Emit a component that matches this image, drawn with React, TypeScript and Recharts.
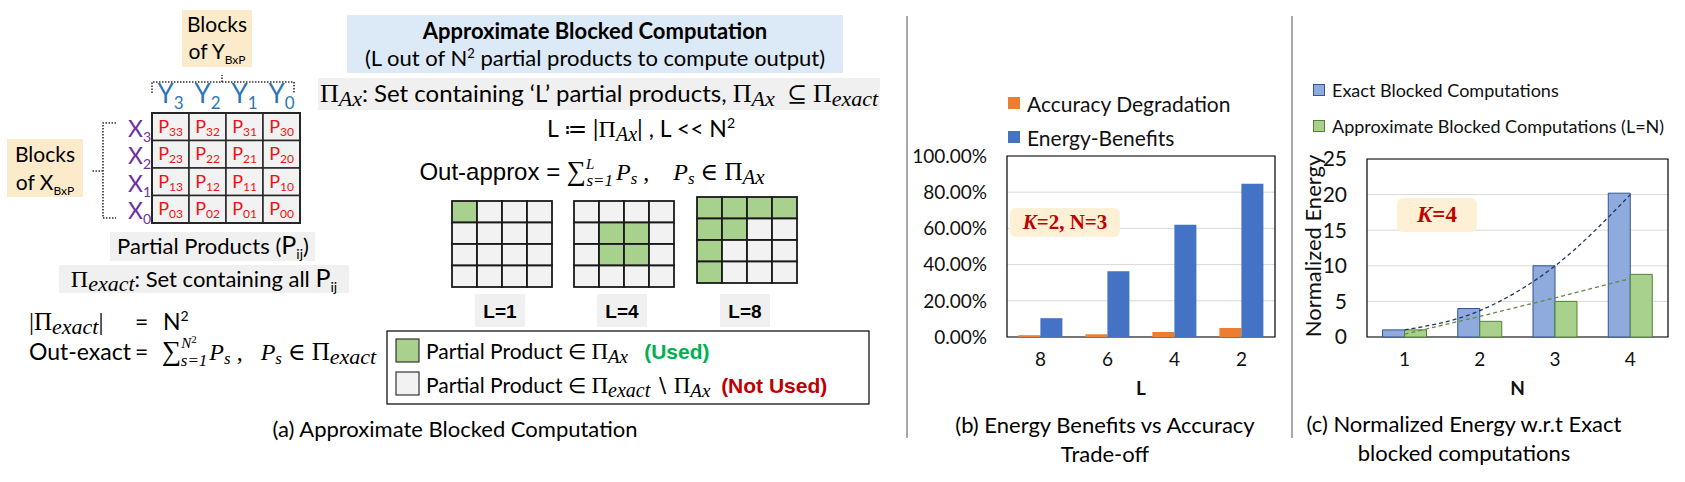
import React from 'react'
import {
  BarChart,
  ComposedChart,
  Bar,
  Line,
  XAxis,
  YAxis,
  CartesianGrid,
  Legend,
  ReferenceArea,
} from 'recharts'

// ---- data: (b) energy benefits vs accuracy ----
const lValues = ['8', '6', '4', '2']
const accuracyDegradation = [1.0, 1.5, 2.7, 5.0]
const energyBenefits = [10.4, 36.3, 62.0, 84.6]
const bTicks = [0, 20, 40, 60, 80, 100]

// ---- data: (c) normalized energy ----
const nValues = ['1', '2', '3', '4']
const exactEnergy = [1.0, 4.0, 10.0, 20.2]
const approxEnergy = [1.0, 2.2, 5.0, 8.8]
const exactTrend = [1.0, 3.7, 10.0, 20.0]
const approxTrend = [0.4, 2.9, 5.5, 8.2]
const cTicks = [0, 5, 10, 15, 20, 25]

// ---- data: (a) which partial products are used for each L ----
const gridLabels = ['L=1', 'L=4', 'L=8']
const usedCells: [number, number][][] = [
  [[0, 0]],
  [[1, 1], [1, 2], [2, 1], [2, 2]],
  [[0, 0], [0, 1], [0, 2], [0, 3], [1, 0], [1, 1], [2, 0], [3, 0]],
]
const blockIdx = [3, 2, 1, 0]

const W = 1685
const H = 482
const SANS = 'Lato, "Open Sans", sans-serif'
const MATH = '"Liberation Serif", "DejaVu Serif", serif'
const ARIAL = '"Liberation Sans", Arial, sans-serif'
const PEACH = '#fcebcb'
const LIGHT = '#f0f0f0'
const TXT = '#111'

const bSeries = [
  { key: 'accuracy', name: 'Accuracy Degradation', color: '#ed7d31' },
  { key: 'energy', name: 'Energy-Benefits', color: '#4472c4' },
]
const cSeries = [
  { key: 'exact', name: 'Exact Blocked Computations', color: '#8faadc', border: '#2f5597' },
  { key: 'approx', name: 'Approximate Blocked Computations (L=N)', color: '#a9d18e', border: '#548235' },
]

const bData = lValues.map((l, i) => ({ L: l, accuracy: accuracyDegradation[i], energy: energyBenefits[i] }))
const cData = nValues.map((n, i) => ({
  N: n,
  exact: exactEnergy[i],
  approx: approxEnergy[i],
  exactTrend: exactTrend[i],
  approxTrend: approxTrend[i],
}))

interface Seg {
  t: string
  size?: number
  fam?: string
  it?: boolean
  bold?: boolean
  fill?: string
  shift?: number
  dx?: number
}

function Rich({ x, y, segs, anchor = 'start', size = 20, fam = SANS, fill = '#000' }: {
  x: number; y: number; segs: Seg[]; anchor?: 'start' | 'middle' | 'end'; size?: number; fam?: string; fill?: string
}) {
  let prev = 0
  return (
    <text x={x} y={y} textAnchor={anchor} fontSize={size} fontFamily={fam} fill={fill} style={{ whiteSpace: 'pre' }}>
      {segs.map((s, i) => {
        const sh = s.shift ?? prev
        const dy = sh - prev
        prev = sh
        return (
          <tspan
            key={i}
            dy={dy || undefined}
            dx={s.dx}
            fontSize={s.size}
            fontFamily={s.fam}
            fontStyle={s.it ? 'italic' : undefined}
            fontWeight={s.bold ? 'bold' : undefined}
            fill={s.fill}
          >
            {s.t}
          </tspan>
        )
      })}
    </text>
  )
}

const pi = (sub: string, size = 24, subSize = 21): Seg[] => [
  { t: 'Π', fam: MATH, size, shift: 0 },
  { t: sub, fam: MATH, it: true, size: subSize, shift: 4 },
]

function DiagramA() {
  const gx = 152
  const gy = 113
  const cw = 37
  const ch = 27.5
  const smallX = [452, 574, 697]
  const smallY = [201, 201, 197]
  const sw = 25
  const sh = 21.5
  return (
    <g>
      {/* blocks of Y */}
      <rect x={182} y={10} width={70} height={57} fill={PEACH} />
      <Rich x={217} y={32} anchor="middle" size={21} segs={[{ t: 'Blocks' }]} />
      <Rich x={217} y={59} anchor="middle" size={21} segs={[{ t: 'of Y' }, { t: 'BxP', size: 12, shift: 5 }]} />
      <path d="M152,93 V82 H294 V93 M222,82 V75" fill="none" stroke="#333" strokeWidth={1.6} strokeDasharray="1.5 1.5" />
      {blockIdx.map((b, c) => (
        <Rich key={c} x={gx + cw * c + cw / 2} y={103} anchor="middle" fill="#2e75b6"
          segs={[{ t: 'Y', size: 26 }, { t: String(b), size: 17, shift: 6 }]} />
      ))}
      {/* partial product grid */}
      {blockIdx.map((rb, r) =>
        blockIdx.map((cb, c) => (
          <g key={`${r}-${c}`}>
            <rect x={gx + cw * c} y={gy + ch * r} width={cw} height={ch} fill="#f2f2f2" stroke="#262626" strokeWidth={1.5} />
            <Rich x={gx + cw * c + cw / 2} y={gy + ch * r + ch / 2 + 6} anchor="middle" fill="#ee1111"
              segs={[{ t: 'P', size: 18 }, { t: `${rb}${cb}`, size: 12, shift: 3 }]} />
          </g>
        ))
      )}
      <rect x={gx} y={gy} width={cw * 4} height={ch * 4} fill="none" stroke="#262626" strokeWidth={2} />
      {blockIdx.map((b, r) => (
        <Rich key={r} x={151} y={gy + ch * r + ch / 2 + 10} anchor="end" fill="#7030a0"
          segs={[{ t: 'X', size: 23 }, { t: String(b), size: 14, shift: 5 }]} />
      ))}
      <path d="M116,123 H103 V218 H116 M103,171 H92" fill="none" stroke="#333" strokeWidth={1.6} strokeDasharray="1.5 1.5" />
      {/* blocks of X */}
      <rect x={7} y={139} width={76} height={58} fill={PEACH} />
      <Rich x={45} y={162} anchor="middle" size={21} segs={[{ t: 'Blocks' }]} />
      <Rich x={45} y={190} anchor="middle" size={21} segs={[{ t: 'of X' }, { t: 'BxP', size: 12, shift: 5 }]} />

      <rect x={110} y={232} width={205} height={29} fill={LIGHT} />
      <Rich x={213} y={254} anchor="middle" size={22}
        segs={[{ t: 'Partial Products (' }, { t: 'P', size: 25 }, { t: 'ij', size: 14, shift: 5 }, { t: ')', shift: 0 }]} />
      <rect x={59} y={265} width={290} height={28} fill={LIGHT} />
      <Rich x={204} y={287} anchor="middle" size={22}
        segs={[...pi('exact', 24, 22), { t: ': Set containing all ', shift: 0 }, { t: 'P', size: 25 }, { t: 'ij', size: 14, shift: 5 }]} />

      <Rich x={29} y={330} segs={[{ t: '|', fam: MATH, size: 25 }, ...pi('exact', 25, 22), { t: '|', fam: MATH, size: 25, shift: 0 }]} />
      <Rich x={135} y={330} size={23} segs={[{ t: '=' }]} />
      <Rich x={163} y={330} size={23} segs={[{ t: 'N' }, { t: '2', size: 14, shift: -9 }]} />
      <Rich x={29} y={360} size={23} segs={[{ t: 'Out-exact' }]} />
      <Rich x={135} y={360} size={23} segs={[{ t: '=' }]} />
      <Rich x={162} y={360} fam={MATH} size={24}
        segs={[
          { t: '∑', size: 27, shift: 0 },
          { t: 'N', it: true, size: 15, shift: -12 },
          { t: '2', size: 11, shift: -17 },
          { t: 's=1', it: true, size: 17, shift: 6, dx: -16 },
          { t: 'P', it: true, size: 24, shift: 0, dx: 2 },
          { t: 's', it: true, size: 17, shift: 4 },
          { t: ' ,   ', shift: 0 },
          { t: 'P', it: true, size: 24 },
          { t: 's', it: true, size: 17, shift: 4 },
          { t: ' ∈ ', shift: 0 },
          ...pi('exact', 25, 22),
        ]} />

      {/* approximate block */}
      <rect x={347} y={15} width={496} height={58} fill="#dce9f6" />
      <Rich x={595} y={39} anchor="middle" size={22} segs={[{ t: 'Approximate Blocked Computation', bold: true }]} />
      <Rich x={595} y={66} anchor="middle" size={22}
        segs={[{ t: '(L out of N' }, { t: '2', size: 13, shift: -8 }, { t: ' partial products to compute output)', shift: 0 }]} />
      <rect x={318} y={78} width={562} height={32} fill={LIGHT} />
      <Rich x={599} y={102} anchor="middle" size={24}
        segs={[...pi('Ax', 26, 22), { t: ': Set containing ‘L’ partial products, ', shift: 0 }, ...pi('Ax', 26, 22), { t: '  ⊆ ', fam: MATH, shift: 0 }, ...pi('exact', 26, 22)]} />
      <Rich x={641} y={137} anchor="middle" size={23}
        segs={[{ t: 'L ≔ |' }, ...pi('Ax', 24, 20), { t: '| , L << N', shift: 0 }, { t: '2', size: 14, shift: -9 }]} />
      <Rich x={592} y={180} anchor="middle" size={24} fam={MATH}
        segs={[
          { t: 'Out-approx = ', fam: ARIAL, shift: 0 },
          { t: '∑', size: 27 },
          { t: 'L', it: true, size: 15, shift: -11 },
          { t: 's=1', it: true, size: 17, shift: 6, dx: -8 },
          { t: 'P', it: true, shift: 0, dx: 3 },
          { t: 's', it: true, size: 17, shift: 4 },
          { t: ' ,    ', shift: 0 },
          { t: 'P', it: true },
          { t: 's', it: true, size: 17, shift: 4 },
          { t: ' ∈ ', shift: 0 },
          ...pi('Ax', 25, 21),
        ]} />

      {usedCells.map((cells, g) => (
        <g key={g}>
          {[0, 1, 2, 3].map((r) =>
            [0, 1, 2, 3].map((c) => {
              const used = cells.some(([rr, cc]) => rr === r && cc === c)
              return (
                <rect key={`${r}-${c}`} x={smallX[g] + sw * c} y={smallY[g] + sh * r} width={sw} height={sh}
                  fill={used ? '#a9d18e' : '#f2f2f2'} stroke="#1a1a1a" strokeWidth={1.8} />
              )
            })
          )}
          <rect x={smallX[g] + 50 - 27} y={294} width={50} height={33} fill={LIGHT} />
          <Rich x={smallX[g] + 48} y={318} anchor="middle" size={19} fam={ARIAL} segs={[{ t: gridLabels[g], bold: true }]} />
        </g>
      ))}

      {/* legend of (a) */}
      <rect x={387} y={331} width={482} height={73} fill="#fff" stroke="#000" strokeWidth={1.2} />
      <rect x={396} y={339} width={23} height={23} fill="#a9d18e" stroke="#333" strokeWidth={1.2} />
      <rect x={396} y={372} width={23} height={23} fill="#f2f2f2" stroke="#333" strokeWidth={1.2} />
      <Rich x={426} y={359} size={21}
        segs={[{ t: 'Partial Product ∈ ' }, ...pi('Ax', 23, 19), { t: '   ', shift: 0 },
          { t: '(Used)', fam: ARIAL, bold: true, fill: '#00b050' }]} />
      <Rich x={426} y={393} size={21}
        segs={[{ t: 'Partial Product ∈ ' }, ...pi('exact', 23, 20), { t: ' ∖ ', fam: MATH, shift: 0 }, ...pi('Ax', 23, 19),
          { t: '  ', shift: 0 }, { t: '(Not Used)', fam: ARIAL, bold: true, fill: '#c00000' }]} />

      <Rich x={455} y={437} anchor="middle" size={22} segs={[{ t: '(a) Approximate Blocked Computation' }]} />
    </g>
  )
}

function LegendB() {
  return (
    <div style={{ fontFamily: SANS, color: TXT }}>
      {bSeries.map((s) => (
        <div key={s.key} style={{ display: 'flex', alignItems: 'center', height: 34, fontSize: 21 }}>
          <span style={{ width: 12, height: 12, background: s.color, marginRight: 7 }} />
          {s.name}
        </div>
      ))}
    </div>
  )
}

function LegendC() {
  return (
    <div style={{ fontFamily: SANS, color: TXT }}>
      {cSeries.map((s) => (
        <div key={s.key} style={{ display: 'flex', alignItems: 'center', height: 36, fontSize: 18 }}>
          <span style={{ width: 10, height: 10, background: s.color, border: `1px solid ${s.border}`, marginRight: 7 }} />
          {s.name}
        </div>
      ))}
    </div>
  )
}

const YLabelC = (props: { viewBox?: { x: number; y: number; height: number } }) => {
  const vb = props.viewBox ?? { x: 0, y: 99, height: 178 }
  const cx = vb.x + 17
  const cy = vb.y + vb.height / 2 - 2
  return (
    <text x={cx} y={cy} transform={`rotate(-90 ${cx} ${cy})`} textAnchor="middle" dominantBaseline="central"
      fontSize={22} fontFamily={SANS} fill={TXT}>
      Normalized Energy
    </text>
  )
}

const tickStyle = { fontSize: 19, fill: TXT, fontFamily: SANS }

function ChartB() {
  return (
    <BarChart width={380} height={340} data={bData} margin={{ top: 86, right: 15, bottom: 15, left: 0 }}
      barCategoryGap="17%" barGap={0}>
      <CartesianGrid vertical={false} stroke="#d9d9d9" />
      <XAxis dataKey="L" axisLine={false} tickLine={false} tickSize={0} tickMargin={16} height={58} tick={tickStyle}
        label={{ value: 'L', position: 'insideBottom', offset: 0, fontSize: 19, fontWeight: 'bold', fill: TXT, fontFamily: SANS }} />
      <YAxis domain={[0, 100]} ticks={bTicks} tickFormatter={(v: number) => `${v.toFixed(2)}%`} width={97}
        axisLine={false} tickLine={false} tickSize={0} tickMargin={20} tick={tickStyle} />
      <ReferenceArea y1={0} y2={100} fill="none" stroke="#000" strokeWidth={1.2} />
      <Legend layout="vertical" align="center" verticalAlign="middle" wrapperStyle={{ top: 16, left: 98, width: 'auto' }}
        content={() => <LegendB />} />
      {bSeries.map((s) => (
        <Bar key={s.key} dataKey={s.key} name={s.name} fill={s.color} isAnimationActive={false} />
      ))}
    </BarChart>
  )
}

function ChartC() {
  return (
    <ComposedChart width={385} height={350} data={cData} margin={{ top: 99, right: 12, bottom: 15, left: 0 }}
      barCategoryGap="20.6%" barGap={0}>
      <CartesianGrid vertical={false} stroke="#d9d9d9" />
      <XAxis dataKey="N" axisLine={false} tickLine={false} tickSize={0} tickMargin={16} height={58} tick={tickStyle}
        label={{ value: 'N', position: 'insideBottom', offset: 0, fontSize: 19, fontWeight: 'bold', fill: TXT, fontFamily: SANS }} />
      <YAxis domain={[0, 25]} ticks={cTicks} width={72} axisLine={false} tickLine={false} tickSize={0} tickMargin={20}
        tick={{ ...tickStyle, fontSize: 21 }} label={(p: any) => <YLabelC {...p} />} />
      <ReferenceArea y1={0} y2={25} fill="none" stroke="#000" strokeWidth={1.2} />
      <Legend layout="vertical" align="center" verticalAlign="middle" wrapperStyle={{ top: 12, left: 18, width: 'auto' }}
        content={() => <LegendC />} />
      {cSeries.map((s) => (
        <Bar key={s.key} dataKey={s.key} name={s.name} fill={s.color} stroke={s.border} strokeWidth={1} isAnimationActive={false} />
      ))}
      <Line dataKey="exactTrend" type="monotone" stroke="#203864" strokeWidth={1.3} strokeDasharray="4 3" dot={false}
        legendType="none" isAnimationActive={false} />
      <Line dataKey="approxTrend" type="linear" stroke="#5f8a44" strokeWidth={1.3} strokeDasharray="4 3" dot={false}
        legendType="none" isAnimationActive={false} />
    </ComposedChart>
  )
}

export default function App() {
  return (
    <div style={{ position: 'absolute', left: 0, top: 0, width: W, height: H, background: '#fff', overflow: 'hidden', fontFamily: SANS }}>
      <svg width={W} height={H} style={{ position: 'absolute', left: 0, top: 0 }}>
        <DiagramA />
        <line x1={907} y1={16} x2={907} y2={438} stroke="#8c8c8c" strokeWidth={1.5} />
        <line x1={1292} y1={16} x2={1292} y2={438} stroke="#8c8c8c" strokeWidth={1.5} />
        <Rich x={1105} y={433} anchor="middle" size={22} segs={[{ t: '(b) Energy Benefits vs Accuracy' }]} />
        <Rich x={1105} y={462} anchor="middle" size={22} segs={[{ t: 'Trade-off' }]} />
        <Rich x={1464} y={432} anchor="middle" size={22} segs={[{ t: '(c) Normalized Energy w.r.t Exact' }]} />
        <Rich x={1464} y={461} anchor="middle" size={22} segs={[{ t: 'blocked computations' }]} />
      </svg>
      <div style={{ position: 'absolute', left: 910, top: 70 }}>
        <ChartB />
      </div>
      <div style={{ position: 'absolute', left: 1295, top: 60 }}>
        <ChartC />
      </div>
      <div style={{ position: 'absolute', left: 1010, top: 208, width: 110, height: 29, background: '#fdf0d4', borderRadius: 6,
        display: 'flex', alignItems: 'center', justifyContent: 'center', fontFamily: MATH, fontWeight: 'bold', fontSize: 21, color: '#c00000' }}>
        <span><i>K</i>=2, N=3</span>
      </div>
      <div style={{ position: 'absolute', left: 1397, top: 198, width: 80, height: 34, background: '#fdf0d4', borderRadius: 6,
        display: 'flex', alignItems: 'center', justifyContent: 'center', fontFamily: MATH, fontWeight: 'bold', fontSize: 23, color: '#c00000' }}>
        <span><i>K</i>=4</span>
      </div>
    </div>
  )
}
